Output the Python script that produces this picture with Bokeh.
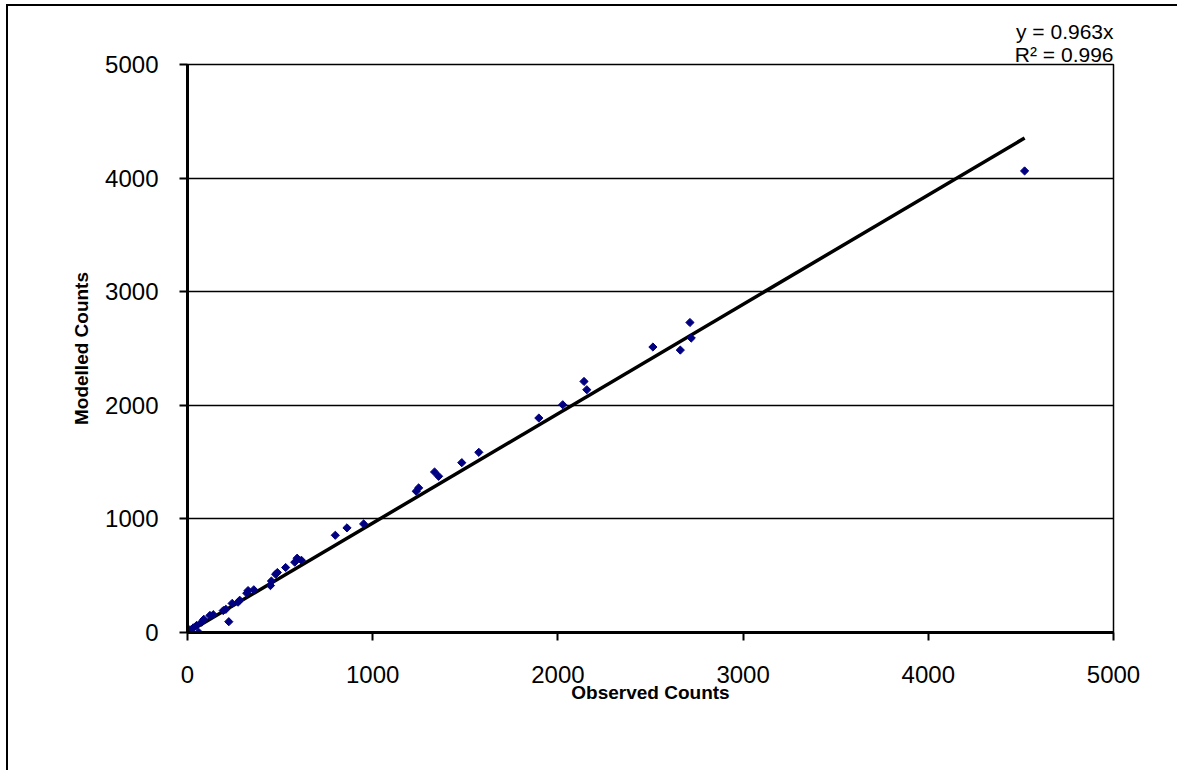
from bokeh.plotting import figure
from bokeh.models import Range1d, FixedTicker, Title
from bokeh.embed import file_html
from bokeh.resources import INLINE

# Data
observed = [0, 5, 13, 31, 49, 60, 76, 88, 121, 139, 193, 207, 223, 241, 273, 282,
            320, 327, 358, 448, 453, 476, 485, 530, 579, 592, 615, 798, 861, 951,
            1235, 1248, 1334, 1356, 1481, 1573, 1897, 2026, 2141, 2156, 2513, 2661,
            2713, 2720, 4520]
modelled = [0, 11, 24, 41, 62, 2, 91, 116, 150, 157, 193, 204, 95, 256, 267, 284,
            346, 369, 376, 413, 453, 513, 528, 572, 619, 654, 636, 856, 921, 956,
            1243, 1273, 1413, 1375, 1495, 1586, 1888, 2005, 2210, 2137, 2513, 2486,
            2729, 2592, 4063]
slope = 0.963
r2 = 0.996
ticks = [0, 1000, 2000, 3000, 4000, 5000]

FONT = "Liberation Sans"

p = figure(width=1171, height=766, output_backend="svg", toolbar_location=None,
           x_range=Range1d(0, 5000), y_range=Range1d(0, 5000),
           min_border_left=179, min_border_right=66, min_border_top=58,
           min_border_bottom=140)
p.styles = {"margin-left": "6px", "margin-top": "4px",
            "border-left": "2px solid black", "border-top": "2px solid black",
            "border-right": "none", "border-bottom": "none",
            "outline": "none", "box-shadow": "none"}

p.background_fill_color = "white"
p.border_fill_color = "white"
p.outline_line_color = "black"
p.outline_line_width = 1.5

for ax in (p.xaxis[0], p.yaxis[0]):
    ax.ticker = FixedTicker(ticks=ticks)
    ax.axis_line_width = 3
    ax.axis_line_color = "black"
    ax.major_tick_line_width = 2
    ax.major_tick_line_color = "black"
    ax.major_tick_out = 8
    ax.major_tick_in = 0
    ax.minor_tick_line_color = None
    ax.major_label_text_font = FONT
    ax.major_label_text_font_size = "24px"
    ax.major_label_text_color = "black"
    ax.axis_label_text_font = FONT
    ax.axis_label_text_font_size = "19px"
    ax.axis_label_text_font_style = "bold"
    ax.axis_label_text_color = "black"

p.xaxis.axis_label = "Observed Counts"
p.yaxis.axis_label = "Modelled Counts"
p.xaxis.major_label_standoff = 25
p.yaxis.major_label_standoff = 21
p.xaxis.axis_label_standoff = -4
p.yaxis.axis_label_standoff = 10

p.xgrid.grid_line_color = None
p.ygrid.ticker = FixedTicker(ticks=ticks)
p.ygrid.grid_line_color = "black"
p.ygrid.grid_line_width = 1.3

# trendline y = slope * x over the observed range
xmax = max(observed)
p.line([0, xmax], [0, slope * xmax], line_color="black", line_width=3.5)

p.scatter(observed, modelled, marker="square", angle=0.785398, size=5.8,
          fill_color="#000080", line_color="#000080")

# trendline equation, right-aligned above the plot area
p.title.text = f"y = {slope}x"
p.title.align = "right"
p.title.text_font = FONT
p.title.text_font_size = "21px"
p.title.text_font_style = "normal"
p.title.text_color = "black"
p.title.standoff = 0
p.title.offset = 0
p.add_layout(Title(text=f"R² = {r2}", align="right", text_font=FONT,
                   text_font_size="21px", text_font_style="normal",
                   text_color="black", standoff=-3, offset=0), "above")

open("out.html", "w").write(file_html(p, INLINE))
